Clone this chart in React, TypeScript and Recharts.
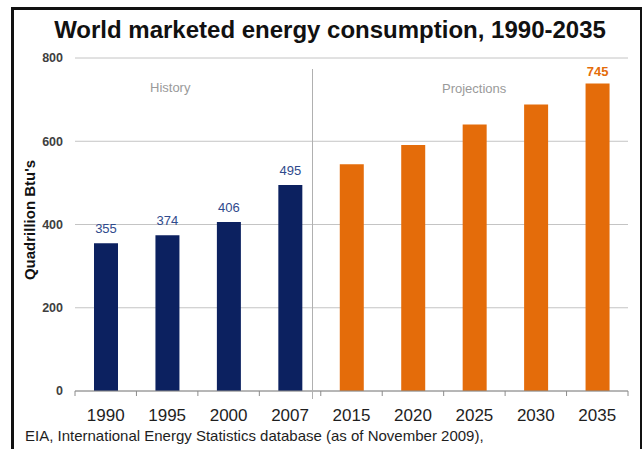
import { BarChart, Bar, XAxis, YAxis, CartesianGrid, LabelList } from "recharts"

const years = ["1990", "1995", "2000", "2007", "2015", "2020", "2025", "2030", "2035"]
const history = [355, 374, 406, 495, null, null, null, null, null]
const projections = [null, null, null, null, 545, 591, 640, 688, 739]
const historyLabels = ["355", "374", "406", "495"]
const projectionLabels = ["", "", "", "", "", "", "", "", "745"]
const yTicks = [0, 200, 400, 600, 800]

const data = years.map((year, i) => ({
  year,
  history: history[i],
  projections: projections[i],
}))

const FONT = "'Liberation Sans', Arial, sans-serif"
const NAVY = "#0c2160"
const ORANGE = "#e46c0a"

// half a category band, for tick marks at the band edges
const HALF_BAND = 553 / 9 / 2

function YearTick(props: any) {
  const { x, y, payload, index } = props
  return (
    <g>
      <line x1={x - HALF_BAND} y1={y} x2={x - HALF_BAND} y2={y + 5} stroke="#8c8c8c" />
      {index === years.length - 1 && (
        <line x1={x + HALF_BAND} y1={y} x2={x + HALF_BAND} y2={y + 5} stroke="#8c8c8c" />
      )}
      <text x={x} y={y + 30} textAnchor="middle" fill="#1e1e1e" fontSize={17} fontFamily={FONT}>
        {payload.value}
      </text>
    </g>
  )
}

export default function App() {
  return (
    <div style={{ position: "absolute", left: 0, top: 0, width: 642, height: 449, background: "#fff", overflow: "hidden", fontFamily: FONT }}>
      <div style={{ position: "absolute", left: 11, top: 7, width: 626, height: 470, border: "3px solid #111" }} />
      <div style={{ position: "absolute", left: 0, width: 660, top: 16, textAlign: "center", fontSize: 24, fontWeight: "bold", color: "#111" }}>
        World marketed energy consumption, 1990-2035
      </div>
      <div
        style={{
          position: "absolute",
          left: 29,
          top: 220,
          transform: "translate(-50%, -50%) rotate(-90deg)",
          whiteSpace: "nowrap",
          fontSize: 15,
          fontWeight: "bold",
          color: "#111",
        }}
      >
        Quadrillion Btu's
      </div>
      <BarChart
        width={642}
        height={449}
        data={data}
        margin={{ top: 58, right: 14, bottom: 18, left: 35 }}
        style={{ position: "absolute", left: 0, top: 0 }}
      >
        <CartesianGrid vertical={false} stroke="#c4c4c4" />
        <XAxis
          dataKey="year"
          height={40}
          axisLine={{ stroke: "#8c8c8c" }}
          tickLine={false}
          tickSize={0}
          tickMargin={0}
          interval={0}
          tick={<YearTick />}
        />
        <YAxis
          width={40}
          domain={[0, 800]}
          ticks={yTicks}
          axisLine={false}
          tickLine={false}
          tickSize={0}
          tickMargin={12}
          tick={{ fill: "#404040", fontSize: 12.5, fontWeight: "bold", fontFamily: FONT }}
        />
        <Bar dataKey="history" stackId="a" fill={NAVY} barSize={24} isAnimationActive={false}>
          <LabelList
            dataKey="history"
            position="top"
            offset={10}
            formatter={(v: any) => (v == null ? "" : historyLabels[history.indexOf(v)])}
            style={{ fill: "#2f4a8c", fontSize: 13, fontFamily: FONT }}
          />
        </Bar>
        <Bar dataKey="projections" stackId="a" fill={ORANGE} barSize={24} isAnimationActive={false}>
          <LabelList
            dataKey="projections"
            position="top"
            offset={7}
            formatter={(v: any) => (v == null ? "" : projectionLabels[projections.indexOf(v)])}
            style={{ fill: ORANGE, fontSize: 13, fontWeight: "bold", fontFamily: FONT }}
          />
        </Bar>
      </BarChart>
      <div style={{ position: "absolute", left: 312, top: 69, width: 1, height: 330, background: "#b0b0b0" }} />
      <div style={{ position: "absolute", left: 150, top: 80, fontSize: 13, color: "#9a9a9a" }}>History</div>
      <div style={{ position: "absolute", left: 442, top: 81, fontSize: 13, color: "#9a9a9a" }}>Projections</div>
      <div style={{ position: "absolute", left: 25, top: 427, fontSize: 15, color: "#1e1e1e" }}>
        EIA, International Energy Statistics database (as of November 2009),
      </div>
    </div>
  )
}
